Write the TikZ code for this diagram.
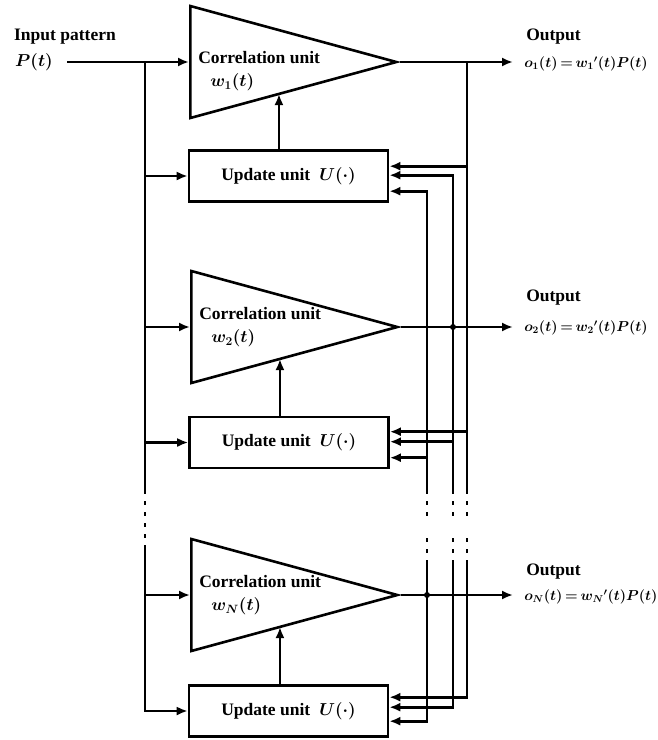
\documentclass[tikz,border=0pt]{standalone}
\usepackage{fontspec}
\setmainfont{Liberation Serif}
\usepackage{amsmath}
\usetikzlibrary{positioning, arrows.meta, shapes.geometric, calc}
\newcommand{\tighteq}{\thickmuskip=3mu\relax}

\begin{document}
\begin{tikzpicture}[
    x=1pt, y=-1pt,
    font=\fontsize{17.5}{23}\selectfont\bfseries\boldmath,
    line width=2.6pt,
    arr/.style={-{Latex[length=11pt,width=9pt]}},
    corr/.style={
      draw, isosceles triangle, isosceles triangle stretches,
      minimum width=112pt, minimum height=206pt,
      inner sep=0pt, anchor=lower side
    },
    upd/.style={draw, rectangle, minimum width=199pt, minimum height=51pt},
    corrtxt/.style={align=left, inner sep=0pt},
    outlbl/.style={anchor=west, inner sep=0pt},
    outf/.style={anchor=west, inner xsep=10pt, inner ysep=0pt,
      font=\fontsize{14}{16}\selectfont\bfseries\boldmath},
    brk/.style={dash pattern=on 4pt off 7pt}
  ]
    \useasboundingbox (0,0) rectangle (658,740);

    \node (inlbl) at (65,37) {Input pattern};
    \node (pin)   at (34,62) {$P(t)$};
    \coordinate (in0) at (67,62);

    \node[corr] (c1) at (189,62)  {};
    \node[corr] (c2) at (190,327) {};
    \node[corr] (cN) at (190,595) {};
    \node[corrtxt, right=8pt of c1.lower side, yshift=-9pt] (c1t) {Correlation unit\\\hspace{12pt}$w_1(t)$};
    \node[corrtxt, right=8pt of c2.lower side] (c2t) {Correlation unit\\\hspace{12pt}$w_2(t)$};
    \node[corrtxt, right=8pt of cN.lower side] (cNt) {Correlation unit\\\hspace{12pt}$w_N(t)$};

    \node[upd] (u1) at (288.5,176) {Update unit\hspace{9pt}$U(\cdot)$};
    \node[upd] (u2) at (289,442.5) {Update unit\hspace{9pt}$U(\cdot)$};
    \node[upd] (uN) at (288.5,711) {Update unit\hspace{9pt}$U(\cdot)$};

    \node[outlbl] (o1l) at (525,37)  {Output};
    \node[outf]   (o1f) at (513,64)  {$\tighteq o_1(t) = w_1{}'(t)P(t)$};
    \node[outlbl] (o2l) at (525,298) {Output};
    \node[outf]   (o2f) at (513,328) {$\tighteq o_2(t) = w_2{}'(t)P(t)$};
    \node[outlbl] (oNl) at (525,572) {Output};
    \node[outf]   (oNf) at (513,597) {$\tighteq o_N(t) = w_N{}'(t)P(t)$};

    \coordinate (xa) at (467,0);
    \coordinate (xb) at (453,0);
    \coordinate (xc) at (427,0);
    \coordinate (xbus) at (145,0);
    \coordinate (g1) at (0,490);
    \coordinate (g2) at (0,516);
    \coordinate (g3) at (0,538);
    \coordinate (g4) at (0,562);
    \coordinate (h2) at (0,548);

    \draw[arr] (in0) -- (c1.lower side);
    \draw (c1.lower side -| xbus) -- (g1 -| xbus);
    \draw[brk] (g1 -| xbus) -- (h2 -| xbus);
    \draw[arr] (h2 -| xbus) |- (uN.west);
    \draw[arr] (u1.west -| xbus) -- (u1.west);
    \draw[arr] (c2.lower side -| xbus) -- (c2.lower side);
    \draw[arr] (u2.west -| xbus) -- (u2.west);
    \draw[arr] (cN.lower side -| xbus) -- (cN.lower side);

    \path ($(c1.apex)!.573!(c1.lower side)+(0,32)$) coordinate (c1u);
    \path ($(c2.apex)!.573!(c2.lower side)+(0,32)$) coordinate (c2u);
    \path ($(cN.apex)!.573!(cN.lower side)+(0,32)$) coordinate (cNu);
    \draw[arr] (c1u |- u1.north) -- (c1u);
    \draw[arr] (c2u |- u2.north) -- (c2u);
    \draw[arr] (cNu |- uN.north) -- (cNu);

    \draw[arr] (c1.apex) -- (c1.apex -| o1f.west);
    \draw[arr] (c2.apex) -- (c2.apex -| o2f.west);
    \draw[arr] (cN.apex) -- (cN.apex -| oNf.west);

    \draw (c1.apex -| xa) -- (g1 -| xa);
    \draw[brk] (g1 -| xa) -- (g2 -| xa);
    \draw[brk] (g3 -| xa) -- (g4 -| xa);
    \draw[arr] (c1.apex -| xa) |- ($(u1.north east)+(0,17)$);
    \draw[arr] (c1.apex -| xa) |- ($(u2.north east)+(0,16)$);
    \draw[arr] (g4 -| xa) |- ($(uN.north east)+(0,13)$);

    \draw[brk] (g1 -| xb) -- (g2 -| xb);
    \draw[brk] (g3 -| xb) -- (g4 -| xb);
    \draw[arr] (g1 -| xb) |- ($(u1.north east)+(0,26)$);
    \draw[arr] (c2.apex -| xb) |- ($(u2.north east)+(0,26)$);
    \draw[arr] (g4 -| xb) |- ($(uN.north east)+(0,23)$);

    \draw[brk] (g1 -| xc) -- (g2 -| xc);
    \draw[brk] (g3 -| xc) -- (g4 -| xc);
    \draw[arr] (g1 -| xc) |- ($(u1.north east)+(0,42)$);
    \draw[arr] (g1 -| xc) |- ($(u2.north east)+(0,42)$);
    \draw[arr] (g4 -| xc) |- ($(uN.north east)+(0,37)$);

    \fill (c2.apex -| xb) circle (3pt);
    \fill (cN.apex -| xc) circle (3pt);
  \end{tikzpicture}
\end{document}
